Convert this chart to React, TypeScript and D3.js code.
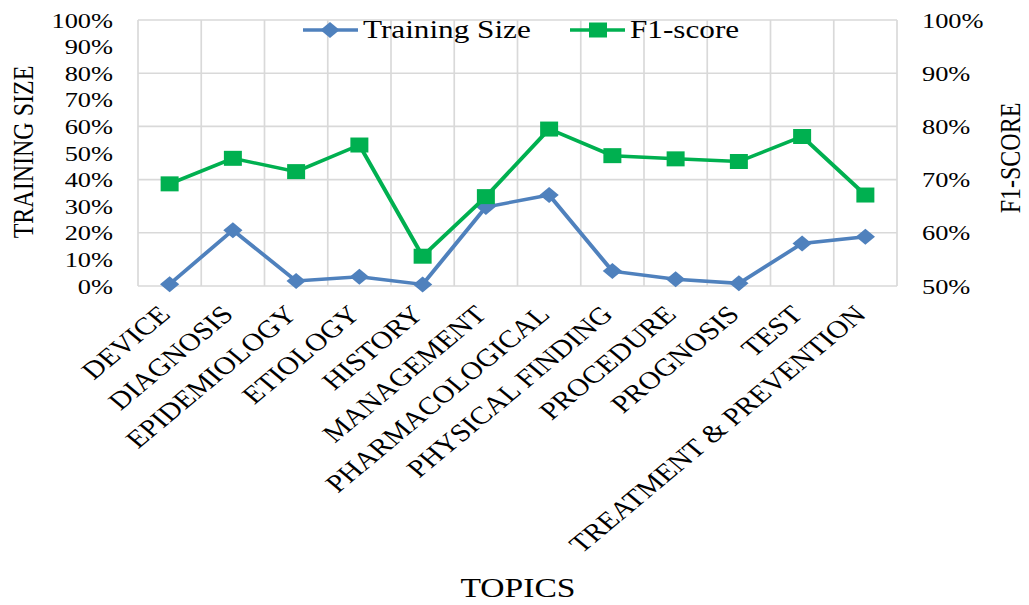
import * as d3 from "d3";

// source image looks horizontally stretched (~1.2x), so we draw in a narrower
// viewBox and let preserveAspectRatio="none" stretch it back out
const SX = 1.2;
const W = 1029;
const H = 605;
const VW = W / SX;

const PLOT = { left: 138 / SX, right: 897 / SX, top: 20, bottom: 286 };

const categories = [
	"DEVICE",
	"DIAGNOSIS",
	"EPIDEMIOLOGY",
	"ETIOLOGY",
	"HISTORY",
	"MANAGEMENT",
	"PHARMACOLOGICAL",
	"PHYSICAL FINDING",
	"PROCEDURE",
	"PROGNOSIS",
	"TEST",
	"TREATMENT & PREVENTION",
];
const trainingSize = [0.7, 21, 1.9, 3.5, 0.6, 29.7, 34.2, 5.6, 2.5, 1.0, 16.0, 18.5];
const f1Score = [69.2, 74.0, 71.5, 76.5, 55.6, 66.8, 79.5, 74.5, 73.9, 73.4, 78.1, 67.1];
const leftTicks = [0, 10, 20, 30, 40, 50, 60, 70, 80, 90, 100];
const rightTicks = [50, 60, 70, 80, 90, 100];
const gridTicks = [0, 20, 40, 60, 80, 100];

const BLUE = "#4f81bd";
const GREEN = "#00b050";
const GRID = "#d9d9d9";
const FONT = "'Liberation Serif', 'Times New Roman', serif";

export default function App() {
	const x = d3.scaleBand<string>().domain(categories).range([PLOT.left, PLOT.right]);
	const cx = (c: string) => (x(c) ?? 0) + x.bandwidth() / 2;
	const yL = d3.scaleLinear().domain([0, 100]).range([PLOT.bottom, PLOT.top]);
	const yR = d3.scaleLinear().domain([50, 100]).range([PLOT.bottom, PLOT.top]);

	const blueLine = d3
		.line<number>()
		.x((_, i) => cx(categories[i]))
		.y((d) => yL(d));
	const greenLine = d3
		.line<number>()
		.x((_, i) => cx(categories[i]))
		.y((d) => yR(d));

	const diamond = d3.symbol(d3.symbolSquare, 128)() ?? "";
	const square = d3.symbol(d3.symbolSquare, 225)() ?? "";

	const boundaries = [...categories.map((c) => x(c) ?? 0), PLOT.right];

	return (
		<svg
			width={W}
			height={H}
			viewBox={`0 0 ${VW} ${H}`}
			preserveAspectRatio="none"
			style={{ position: "absolute", left: 0, top: 0, background: "#fff" }}
			fontFamily={FONT}
		>
			{/* grid */}
			{gridTicks.map((t) => (
				<line
					key={"h" + t}
					x1={PLOT.left}
					x2={PLOT.right}
					y1={yL(t)}
					y2={yL(t)}
					stroke={GRID}
					strokeWidth={1.6}
				/>
			))}
			{boundaries.map((bx, i) => (
				<line
					key={"v" + i}
					x1={bx}
					x2={bx}
					y1={PLOT.top}
					y2={PLOT.bottom}
					stroke={GRID}
					strokeWidth={1.4}
				/>
			))}

			{/* left axis */}
			{leftTicks.map((t) => (
				<text
					key={"l" + t}
					x={113 / SX}
					y={yL(t)}
					textAnchor="end"
					dominantBaseline="central"
					fontSize={22}
				>
					{t}%
				</text>
			))}
			{/* right axis */}
			{rightTicks.map((t) => (
				<text
					key={"r" + t}
					x={922 / SX}
					y={yR(t)}
					dominantBaseline="central"
					fontSize={22}
				>
					{t}%
				</text>
			))}

			<text
				transform={`translate(${23 / SX},152) rotate(-90)`}
				textAnchor="middle"
				dominantBaseline="central"
				fontSize={24}
			>
				TRAINING SIZE
			</text>
			<text
				transform={`translate(${1010 / SX},158) rotate(-90)`}
				textAnchor="middle"
				dominantBaseline="central"
				fontSize={24}
			>
				F1-SCORE
			</text>

			{/* category labels */}
			{categories.map((c) => (
				<text
					key={c}
					transform={`translate(${cx(c) + 2 / SX},316) rotate(-45)`}
					textAnchor="end"
					fontSize={25}
				>
					{c}
				</text>
			))}

			<text x={518 / SX} y={597} textAnchor="middle" fontSize={28}>
				TOPICS
			</text>

			{/* series */}
			<path d={blueLine(trainingSize) ?? ""} fill="none" stroke={BLUE} strokeWidth={3.5} />
			{trainingSize.map((v, i) => (
				<path
					key={"b" + i}
					d={diamond}
					transform={`translate(${cx(categories[i])},${yL(v)}) rotate(45)`}
					fill={BLUE}
				/>
			))}
			<path d={greenLine(f1Score) ?? ""} fill="none" stroke={GREEN} strokeWidth={3.5} />
			{f1Score.map((v, i) => (
				<path
					key={"g" + i}
					d={square}
					transform={`translate(${cx(categories[i])},${yR(v)})`}
					fill={GREEN}
				/>
			))}

			{/* legend */}
			<line x1={303 / SX} x2={358 / SX} y1={30} y2={30} stroke={BLUE} strokeWidth={3.5} />
			<path d={diamond} transform={`translate(${330 / SX},30) rotate(45)`} fill={BLUE} />
			<text x={363 / SX} y={38} fontSize={26}>
				Training Size
			</text>
			<line x1={570 / SX} x2={625 / SX} y1={30} y2={30} stroke={GREEN} strokeWidth={3.5} />
			<path d={square} transform={`translate(${598 / SX},30)`} fill={GREEN} />
			<text x={630 / SX} y={38} fontSize={26}>
				F1-score
			</text>
		</svg>
	);
}
